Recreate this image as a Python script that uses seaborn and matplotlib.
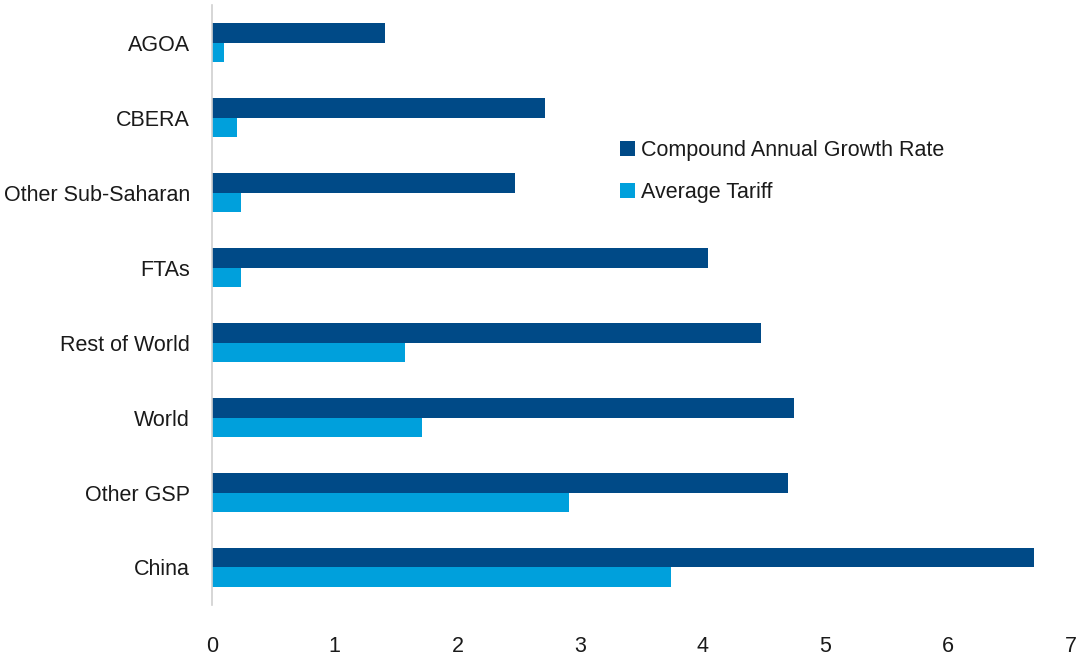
import matplotlib
matplotlib.use("Agg")
import matplotlib.pyplot as plt
import seaborn as sns
import pandas as pd

# Trade programmes and their indicators (percent)
programs = ["AGOA", "CBERA", "Other Sub-Saharan", "FTAs",
            "Rest of World", "World", "Other GSP", "China"]
cagr = [1.41, 2.71, 2.47, 4.04, 4.47, 4.74, 4.69, 6.70]
avg_tariff = [0.10, 0.20, 0.24, 0.24, 1.57, 1.71, 2.91, 3.74]
series_names = ["Compound Annual Growth Rate", "Average Tariff"]
x_ticks = [0, 1, 2, 3, 4, 5, 6, 7]

df = pd.DataFrame({
    "program": programs * 2,
    "value": cagr + avg_tariff,
    "series": [series_names[0]] * len(programs) + [series_names[1]] * len(programs),
})

sns.set_theme(style="white")
plt.rcParams["font.family"] = ["Liberation Sans", "DejaVu Sans"]

fig = plt.figure(figsize=(10.85, 6.59), dpi=100)
ax = fig.add_axes([0.1954, 0.082, 0.7917, 0.910])

palette = {series_names[0]: "#004A87", series_names[1]: "#00A0DC"}
sns.barplot(data=df, y="program", x="value", hue="series", order=programs,
            hue_order=series_names, palette=palette, orient="h",
            width=0.52, linewidth=0, saturation=1, ax=ax)

ax.set_xlim(0, 7)
ax.set_ylim(len(programs) - 0.5, -0.5)
ax.set_xticks(x_ticks)
ax.set_xticklabels([str(t) for t in x_ticks], fontsize=15.5, color="#1a1a1a")
ax.tick_params(axis="x", length=0, pad=22)
ax.tick_params(axis="y", length=0, pad=16, labelsize=15.5, labelcolor="#1a1a1a")
ax.set_xlabel("")
ax.set_ylabel("")

for side in ["top", "right", "bottom"]:
    ax.spines[side].set_visible(False)
ax.spines["left"].set_color("#d0d0d0")
ax.spines["left"].set_linewidth(1.2)

leg = ax.legend(loc="center left", bbox_to_anchor=(0.452, 0.723), frameon=False,
                fontsize=15.5, handlelength=0.7, handleheight=0.7,
                handletextpad=0.3, labelspacing=0.95)
for t in leg.get_texts():
    t.set_color("#1a1a1a")

fig.savefig("out.png", dpi=100)
